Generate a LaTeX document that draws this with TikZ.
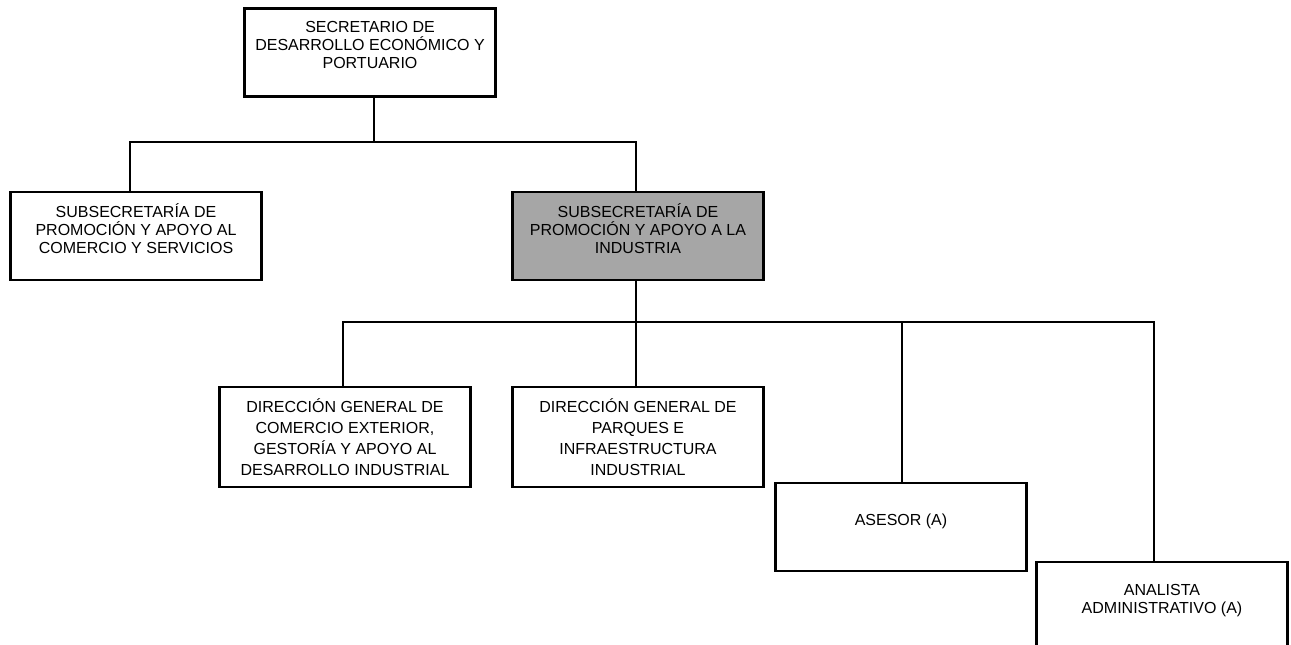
\documentclass[tikz,border=0pt]{standalone}
\usepackage{fontspec}
\setmainfont{Liberation Sans}
\usetikzlibrary{positioning,calc}

\definecolor{cajagris}{HTML}{A6A6A6}
\newcommand{\bajo}{\\[-2.5pt]\mbox{}}

\tikzset{
    caja/.style={draw, line width=2.2pt, minimum width=188pt, minimum height=66pt,
        align=center, inner sep=2pt, font=\fontsize{12pt}{13.5pt}\selectfont},
    cajaalta/.style={caja, minimum height=75pt, font=\fontsize{12pt}{15.75pt}\selectfont},
    linea/.style={line width=1.3pt}
}

\begin{document}
\begin{tikzpicture}[x=0.75pt, y=-0.75pt]
    \clip (0,0) rectangle (1291,645);
    \fill[white] (0,0) rectangle (1291,645);

    % Nivel 1
    \node[caja] (sec) at (370,52.5) {SECRETARIO DE\\DESARROLLO ECONÓMICO Y\\PORTUARIO\bajo};

    % Nivel 2
    \node[caja] (subcom) at (136,236) {SUBSECRETARÍA DE\\PROMOCIÓN Y APOYO AL\\COMERCIO Y SERVICIOS\bajo};
    \node[caja, fill=cajagris] (subind) at (638,236) {SUBSECRETARÍA DE\\PROMOCIÓN Y APOYO A LA\\INDUSTRIA\bajo};

    % Nivel 3
    \node[cajaalta] (dircom) at (345,437) {DIRECCIÓN GENERAL DE\\COMERCIO EXTERIOR,\\GESTORÍA Y APOYO AL\\DESARROLLO INDUSTRIAL};
    \node[cajaalta] (dirpar) at (638,437) {DIRECCIÓN GENERAL DE\\PARQUES E\\INFRAESTRUCTURA\\INDUSTRIAL};
    \node[caja] (ase) at (901,527) {ASESOR (A)\bajo};
    \node[caja] (ana) at (1162,606) {ANALISTA\\ADMINISTRATIVO (A)\bajo};

    % Lineas
    \coordinate (bus1) at (0,142);
    \coordinate (bus2) at (0,322);
    \draw[linea] ([xshift=3pt]sec.south) -- ([xshift=3pt]sec.south |- bus1);
    \draw[linea] ([xshift=-4.5pt]subcom.north) -- ([xshift=-4.5pt]subcom.north |- bus1) -- ([xshift=-1.5pt]subind.north |- bus1) -- ([xshift=-1.5pt]subind.north);
    \draw[linea] ([xshift=-1.5pt]subind.south) -- ([xshift=-1.5pt]dirpar.north);
    \draw[linea] ([xshift=-1.5pt]dircom.north) -- ([xshift=-1.5pt]dircom.north |- bus2) -- ([xshift=-6pt]ana.north |- bus2) -- ([xshift=-6pt]ana.north);
    \draw[linea] ([xshift=0.75pt]ase.north) -- ([xshift=0.75pt]ase.north |- bus2);
\end{tikzpicture}
\end{document}
